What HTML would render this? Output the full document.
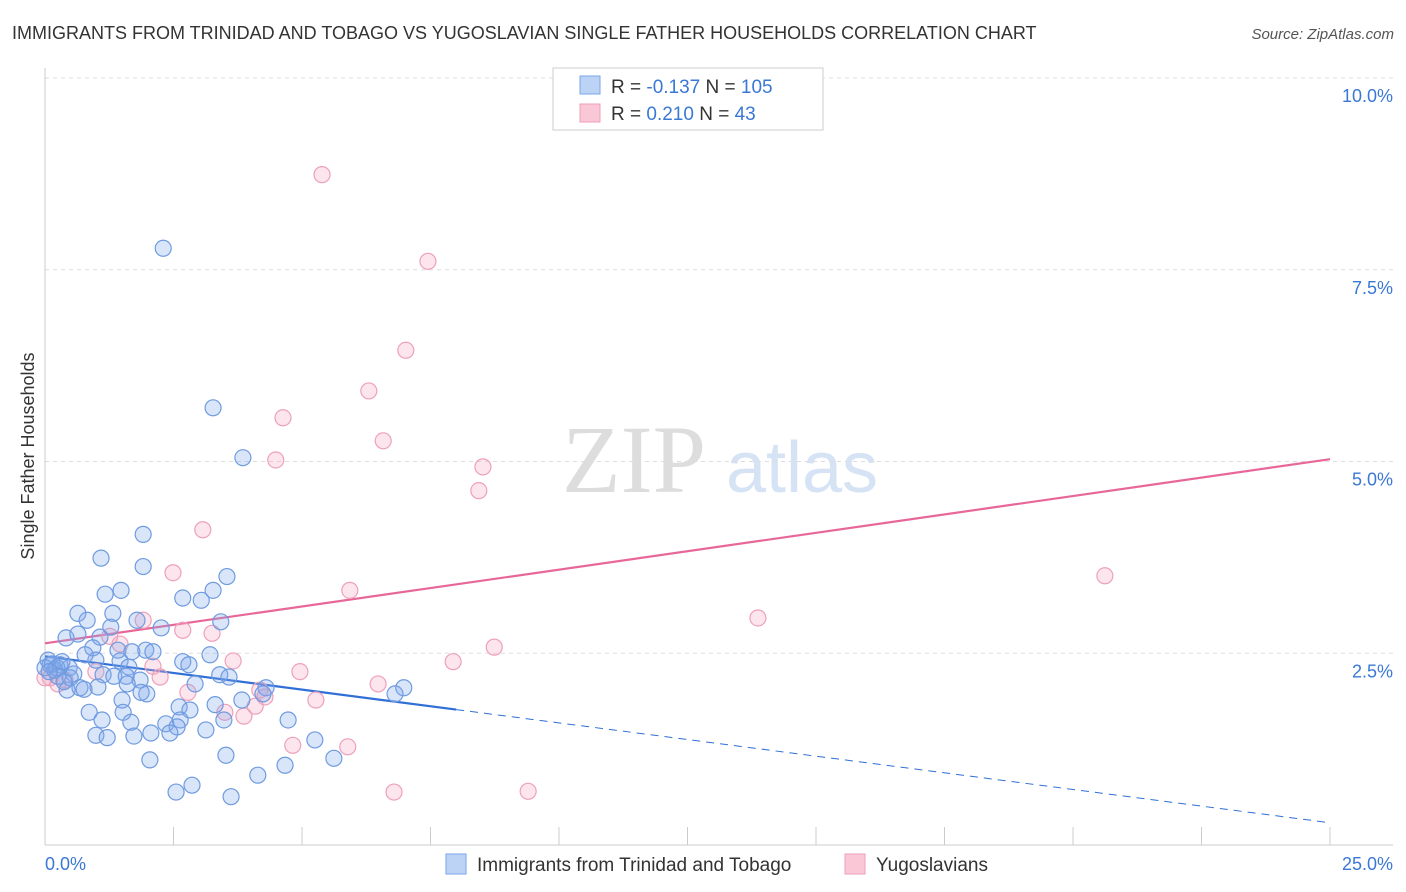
<!DOCTYPE html>
<html><head><meta charset="utf-8"><style>
body{margin:0;background:#fff;font-family:"Liberation Sans",sans-serif;}
svg{display:block}
</style></head><body>
<svg id="c" width="1406" height="892">
<text x="12" y="39" font-size="18" fill="#333">IMMIGRANTS FROM TRINIDAD AND TOBAGO VS YUGOSLAVIAN SINGLE FATHER HOUSEHOLDS CORRELATION CHART</text>
<text x="1394" y="39" font-size="15" fill="#555" text-anchor="end" font-style="italic">Source: ZipAtlas.com</text>
<text x="634" y="492" font-size="96" fill="#ddd" font-family="Liberation Serif" text-anchor="middle">ZIP</text>
<text x="802" y="492" font-size="72" fill="#d5e3f5" text-anchor="middle">atlas</text>
<text x="34" y="456" font-size="18" fill="#333" text-anchor="middle" transform="rotate(-90 34 456)">Single Father Households</text>
<g id="grid"></g><g id="lines"></g><g id="pts"></g>
<g>
<rect x="553" y="68" width="270" height="62" fill="#fff" stroke="#ccc"/>
<rect x="580" y="76" width="20" height="18" fill="#bcd3f5" stroke="#7aa5e6"/>
<rect x="580" y="104" width="20" height="18" fill="#f9c7d6" stroke="#ee9fb9"/>
<text x="611" y="93" font-size="19" fill="#333">R = <tspan fill="#3a78d6">-0.137</tspan>   N = <tspan fill="#3a78d6">105</tspan></text>
<text x="611" y="120" font-size="19" fill="#333">R =  <tspan fill="#3a78d6">0.210</tspan>   N =   <tspan fill="#3a78d6">43</tspan></text>
</g>
<g>
<rect x="446" y="854" width="20" height="20" fill="#bcd3f5" stroke="#7aa5e6"/>
<text x="477" y="871" font-size="19" fill="#333">Immigrants from Trinidad and Tobago</text>
<rect x="845" y="854" width="20" height="20" fill="#f9c7d6" stroke="#ee9fb9"/>
<text x="876" y="871" font-size="19" fill="#333">Yugoslavians</text>
</g>
<text x="45" y="870" font-size="18" fill="#3a78d6">0.0%</text>
<text x="1393" y="870" font-size="18" fill="#3a78d6" text-anchor="end">25.0%</text>
</svg>
<script>
const yTicks=[2.5,5,7.5,10];
const yTickLabels=["2.5%","5.0%","7.5%","10.0%"];
const xTicks=[0,2.5,5,7.5,10,12.5,15,17.5,20,22.5,25];
const blueX=[2.30,3.27,3.85,1.91,1.09,1.91,3.54,1.48,3.27,2.68,1.17,3.04,0.64,1.32,0.82,3.42,1.79,2.26,1.28,0.41,0.64,1.07,0.93,1.42,1.69,1.96,2.10,0.99,1.46,0.78,2.68,3.21,2.80,1.63,0.29,0.47,0.10,0.19,0.56,1.13,1.34,1.58,1.85,3.40,3.58,2.92,0.43,0.68,0.76,1.03,1.60,1.98,1.87,1.50,4.30,4.24,6.98,6.81,3.83,2.61,3.31,2.82,1.52,0.86,1.11,1.67,2.35,2.63,3.48,4.73,2.57,0.99,1.21,1.73,2.06,2.43,3.13,5.25,3.52,2.04,5.62,4.67,4.14,2.86,2.55,3.62,0.06,0.14,0.23,0.33,0.00,0.25,0.08,0.49,0.37];
const blueY=[7.78,5.70,5.05,4.05,3.74,3.63,3.50,3.32,3.32,3.22,3.27,3.19,3.02,3.02,2.93,2.91,2.93,2.83,2.84,2.70,2.75,2.71,2.57,2.54,2.52,2.54,2.52,2.41,2.40,2.48,2.39,2.48,2.35,2.32,2.35,2.31,2.35,2.28,2.23,2.22,2.20,2.20,2.15,2.22,2.19,2.10,2.02,2.05,2.03,2.06,2.10,1.97,1.99,1.89,2.05,1.97,2.05,1.97,1.89,1.80,1.83,1.76,1.73,1.73,1.63,1.60,1.58,1.63,1.63,1.63,1.54,1.43,1.40,1.42,1.46,1.46,1.50,1.37,1.17,1.11,1.13,1.04,0.91,0.78,0.69,0.63,2.41,2.36,2.31,2.39,2.31,2.20,2.26,2.18,2.13];
const pinkX=[5.39,7.45,7.02,6.30,4.63,6.58,4.49,8.52,8.44,3.07,2.49,5.93,20.62,13.87,1.91,1.26,2.68,3.25,1.46,8.74,3.66,2.10,4.96,7.94,6.48,2.24,2.78,4.18,5.27,4.28,4.09,3.87,3.50,4.82,5.89,6.79,9.40,0.10,0.25,0.39,0.99,0.19,0.00];
const pinkY=[8.74,7.61,6.45,5.92,5.57,5.27,5.02,4.93,4.62,4.11,3.55,3.32,3.51,2.96,2.93,2.72,2.80,2.76,2.62,2.58,2.40,2.33,2.26,2.39,2.10,2.19,1.99,2.02,1.89,1.93,1.81,1.68,1.73,1.30,1.28,0.69,0.70,2.18,2.10,2.15,2.26,2.28,2.18];
const blueTrend=[2.46,0.29], blueSolidEnd=8.0;
const pinkTrend=[2.63,5.03];
const NS="http://www.w3.org/2000/svg";
const sx=v=>45+v*51.4, sy=v=>845-v*76.7;
function mk(tag,at,parent){const e=document.createElementNS(NS,tag);for(const k in at)e.setAttribute(k,at[k]);document.getElementById(parent).appendChild(e);return e;}
yTicks.forEach((t,i)=>{
 const l=mk('line',{x1:45,x2:1393,y1:sy(t),y2:sy(t),stroke:'#ddd','stroke-dasharray':'4 4'},'grid');
 
 
 const tx=mk('text',{x:1393,y:sy(t)+24,'font-size':18,fill:'#3a78d6','text-anchor':'end'},'grid');
 tx.textContent=yTickLabels[i];
 
 
});
const ax=mk('line',{x1:45,x2:1393,y1:845,y2:845,stroke:'#ccc'},'grid');


const ay=mk('line',{x1:45,x2:45,y1:68,y2:845,stroke:'#ccc'},'grid');


xTicks.forEach(t=>{const l=mk('line',{x1:sx(t),x2:sx(t),y1:827,y2:845,stroke:'#ccc'},'grid');
 
 });
function pts(X,Y,fill,stroke,name){X.forEach((x,i)=>{const c=mk('circle',{cx:sx(x),cy:sy(Y[i]),r:8,fill:fill,stroke:stroke,'stroke-width':1.2},'pts');
 
 });}
pts(pinkX,pinkY,'rgba(245,170,195,0.3)','#eea0ba','yugoslavian-point');
pts(blueX,blueY,'rgba(130,170,235,0.3)','#6f9be0','trinidad-point');
const by=x=>blueTrend[0]+(blueTrend[1]-blueTrend[0])*x/25;
let l1=mk('line',{x1:sx(0),y1:sy(by(0)),x2:sx(blueSolidEnd),y2:sy(by(blueSolidEnd)),stroke:'#2f6fd6','stroke-width':2.2},'lines');


let l2=mk('line',{x1:sx(blueSolidEnd),y1:sy(by(blueSolidEnd)),x2:sx(25),y2:sy(by(25)),stroke:'#2f6fd6','stroke-width':1,'stroke-dasharray':'8 6'},'lines');


let l3=mk('line',{x1:sx(0),y1:sy(pinkTrend[0]),x2:sx(25),y2:sy(pinkTrend[1]),stroke:'#e8679a','stroke-width':2.2},'lines');


</script>
</body></html>
